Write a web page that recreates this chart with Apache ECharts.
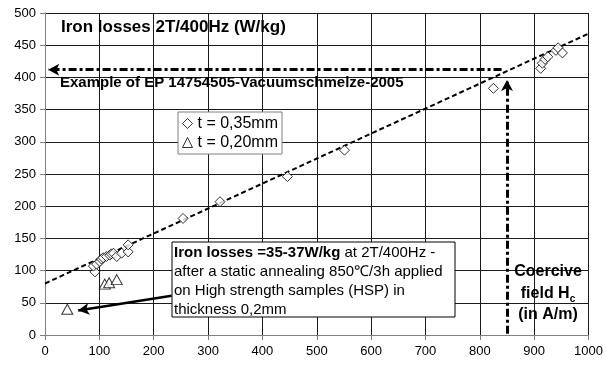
<!DOCTYPE html>
<html><head><meta charset="utf-8">
<script src="https://cdn.jsdelivr.net/npm/echarts@6/dist/echarts.min.js"></script>
<style>html,body{margin:0;padding:0;background:#fff}#c{width:606px;height:369px}</style>
</head><body><div id="c"></div>
<script>
// ---- data ----
const seriesNames = ['t = 0,35mm', 't = 0,20mm'];
const diamondsX = [92, 89, 95, 101, 104, 107, 113, 119, 122, 126, 132, 141, 153, 153, 254, 322, 446, 551, 825, 912, 915, 920, 925, 940, 944, 952];
const diamondsY = [98, 107, 110, 114, 118, 120, 122, 124, 126, 127, 122, 127, 129, 140, 181, 207, 246, 287, 383, 414, 422, 428, 432, 442, 446, 438];
const trianglesX = [41, 110, 118, 132];
const trianglesY = [40, 79, 81, 86];
const trendX = [0, 1031];
const trendY = [80, 480];
const exampleLevel = 412;      // W/kg, horizontal dash-dot
const exampleStartX = 840;
const exampleArrowX = 6;
const coerciveX = 850;         // A/m, vertical dash-dot
const coerciveTopY = 396;
const noteArrowFrom = [233, 61];
const noteArrowTo = [61, 38];
const xMin = 0, xMax = 1000, xStep = 100;
const yMin = 0, yMax = 500, yStep = 50;

const zip = (a, b) => a.map((v, i) => [v, b[i]]);
const FONT = '"Liberation Sans", Arial, sans-serif';

const chart = echarts.init(document.getElementById('c'), null, {renderer: 'canvas'});
const axisCommon = {
  type: 'value',
  axisLine: {show: true, lineStyle: {color: '#808080', width: 1}},
  axisTick: {show: true, inside: false, length: 5, lineStyle: {color: '#808080'}},
  splitLine: {show: true, lineStyle: {color: '#1a1a1a', width: 1}},
  axisLabel: {color: '#000', fontSize: 13, fontFamily: FONT, formatter: v => String(v)}
};
chart.setOption({
  animation: false,
  backgroundColor: '#fff',
  grid: {left: 45, right: 17, top: 13, bottom: 34, containLabel: false},
  xAxis: Object.assign({}, axisCommon, {min: xMin, max: xMax, interval: xStep,
    axisLabel: Object.assign({}, axisCommon.axisLabel, {margin: 10})}),
  yAxis: Object.assign({}, axisCommon, {min: yMin, max: yMax, interval: yStep,
    axisLabel: Object.assign({}, axisCommon.axisLabel, {margin: 9})}),
  legend: {
    orient: 'vertical', left: 178, top: 112, selectedMode: false,
    backgroundColor: '#fff', borderColor: '#808080', borderWidth: 1,
    padding: [2, 4, 2, 4], itemGap: 0, itemWidth: 10, itemHeight: 10,
    textStyle: {fontSize: 16, fontFamily: FONT, color: '#000', lineHeight: 19},
    data: [
      {name: seriesNames[0], icon: 'diamond', itemStyle: {color: '#fff', borderColor: '#000', borderWidth: 1}},
      {name: seriesNames[1], icon: 'triangle', itemStyle: {color: '#fff', borderColor: '#000', borderWidth: 1}}
    ],
    z: 20
  },
  series: [
    {
      name: 'trend', type: 'line', data: zip(trendX, trendY), showSymbol: false, symbol: 'none',
      clip: false, silent: true, z: 3,
      lineStyle: {color: '#000', width: 2, type: [5, 3]},
      markLine: {
        silent: true, animation: false, label: {show: false},
        lineStyle: {color: '#000', width: 3, type: [8, 3, 3, 3]},
        symbol: ['none', 'arrow'], symbolSize: [9, 11],
        data: [
          [{coord: [exampleStartX, exampleLevel]}, {coord: [exampleArrowX, exampleLevel]}],
          [{coord: [coerciveX, 2]}, {coord: [coerciveX, coerciveTopY]}],
          [{coord: noteArrowFrom, lineStyle: {type: 'solid', width: 2.5}},
           {coord: noteArrowTo, lineStyle: {type: 'solid', width: 2.5}}]
        ]
      }
    },
    {
      name: seriesNames[0], type: 'scatter', data: zip(diamondsX, diamondsY),
      symbol: 'diamond', symbolSize: 10, z: 4,
      itemStyle: {color: '#fff', borderColor: '#000', borderWidth: 1}
    },
    {
      name: seriesNames[1], type: 'scatter', data: zip(trianglesX, trianglesY),
      symbol: 'triangle', symbolSize: [11, 10], z: 4,
      itemStyle: {color: '#fff', borderColor: '#000', borderWidth: 1}
    }
  ],
  graphic: [
    {type: 'text', x: 61, y: 27, z: 50,
     style: {text: 'Iron losses 2T/400Hz (W/kg)', font: 'bold 17px ' + FONT, fill: '#000', verticalAlign: 'middle'}},
    {type: 'text', x: 60, y: 83, z: 50,
     style: {text: 'Example of EP 14754505-Vacuumschmelze-2005', font: 'bold 15px ' + FONT, fill: '#000', verticalAlign: 'middle'}},
    {type: 'rect', z: 50, shape: {x: 172, y: 242, width: 283, height: 75},
     style: {fill: '#fff', stroke: '#000', lineWidth: 1}},
    {type: 'text', x: 174, y: 243, z: 51,
     style: {
       text: '{b|Iron losses =35-37W/kg} at 2T/400Hz -\nafter a static annealing 850℃/3h applied\non High strength samples (HSP) in\nthickness 0,2mm',
       font: '15px ' + FONT, fill: '#000', lineHeight: 19, verticalAlign: 'top',
       rich: {b: {font: 'bold 15px ' + FONT, fill: '#000', lineHeight: 19}}
     }},
    {type: 'text', x: 548, y: 261, z: 50,
     style: {
       text: 'Coercive\nfield H{s|c}\n(in A/m)',
       font: 'bold 16px ' + FONT, fill: '#000', align: 'center', verticalAlign: 'top', lineHeight: 21.5,
       rich: {s: {font: 'bold 10px ' + FONT, fill: '#000', verticalAlign: 'bottom', padding: [8, 0, 0, 0]}}
     }}
  ]
});
</script>
</body></html>
